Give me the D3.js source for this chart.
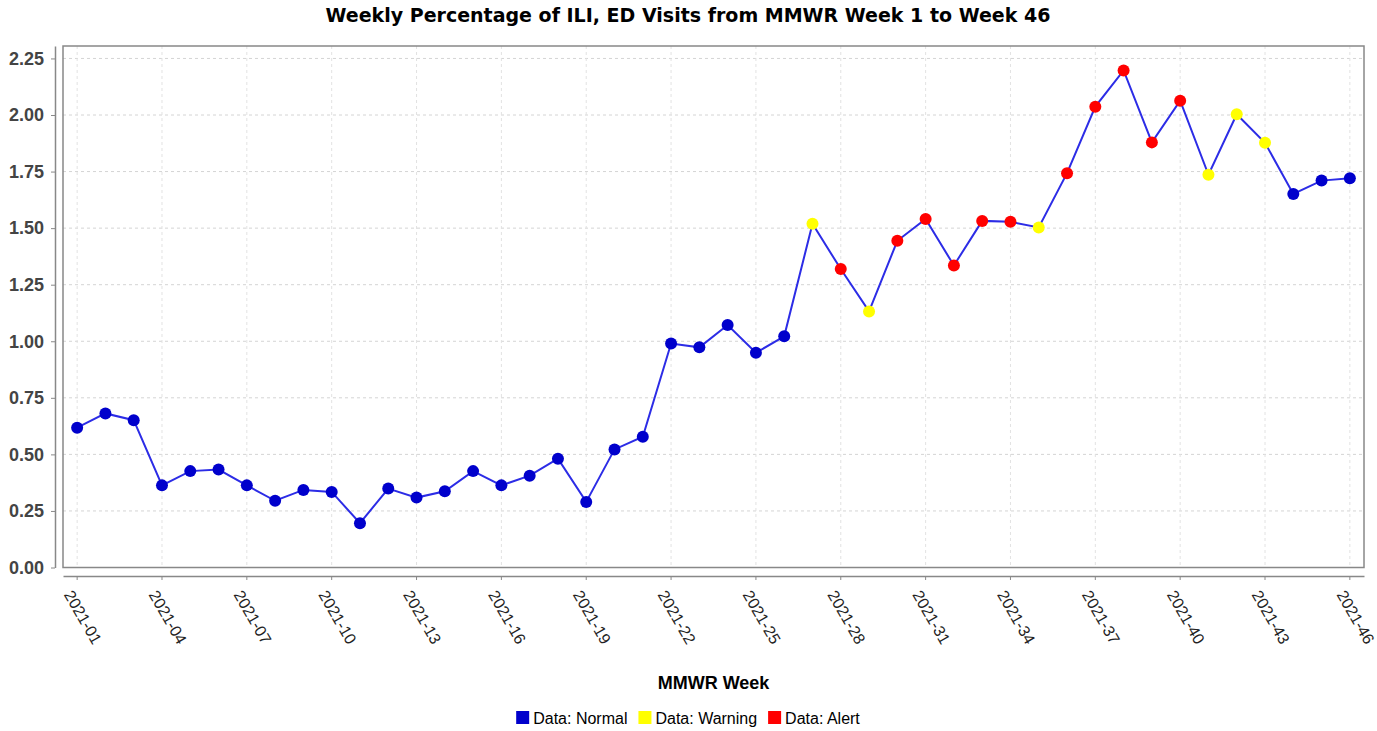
<!DOCTYPE html>
<html>
<head>
<meta charset="utf-8">
<script src="https://cdn.jsdelivr.net/npm/d3@7"></script>
<style>
  body { margin: 0; background: #fff; }
  svg { display: block; }
</style>
</head>
<body>
<svg width="1377" height="731"></svg>
<script>
// ~~~~~~ DATA ~~~~~~
var weeks = ["2021-01","2021-02","2021-03","2021-04","2021-05","2021-06","2021-07","2021-08",
  "2021-09","2021-10","2021-11","2021-12","2021-13","2021-14","2021-15","2021-16","2021-17",
  "2021-18","2021-19","2021-20","2021-21","2021-22","2021-23","2021-24","2021-25","2021-26",
  "2021-27","2021-28","2021-29","2021-30","2021-31","2021-32","2021-33","2021-34","2021-35",
  "2021-36","2021-37","2021-38","2021-39","2021-40","2021-41","2021-42","2021-43","2021-44",
  "2021-45","2021-46"];

var pct = [0.618, 0.681, 0.651, 0.363, 0.426, 0.433, 0.363, 0.295, 0.343, 0.334,
  0.196, 0.349, 0.309, 0.337, 0.426, 0.363, 0.406, 0.481, 0.290, 0.522,
  0.578, 0.990, 0.973, 1.072, 0.949, 1.022, 1.519, 1.319, 1.132, 1.444,
  1.540, 1.335, 1.532, 1.528, 1.503, 1.743, 2.037, 2.197, 1.879, 2.063,
  1.736, 2.003, 1.877, 1.651, 1.710, 1.720];

// N = normal, W = warning, A = alert
var ptStatus = ["N","N","N","N","N","N","N","N","N","N","N","N","N","N","N","N","N","N","N","N",
  "N","N","N","N","N","N","W","A","W","A","A","A","A","A","W","A","A","A","A","A",
  "W","W","W","N","N","N"];

var tickWeeks = ["2021-01","2021-04","2021-07","2021-10","2021-13","2021-16","2021-19","2021-22",
  "2021-25","2021-28","2021-31","2021-34","2021-37","2021-40","2021-43","2021-46"];
var yTicks = [0, 0.25, 0.5, 0.75, 1.0, 1.25, 1.5, 1.75, 2.0, 2.25];

var legendKeys = ["N", "W", "A"];
var legendLabels = ["Data: Normal", "Data: Warning", "Data: Alert"];

// ~~~~~~ COLORS ~~~~~~
var colors = {N: "#0000cc", W: "#ffff00", A: "#ff0000"};

// ~~~~~~ SVG / SCALES ~~~~~~
var svg = d3.select("svg");
var plot = {left: 63, right: 1364, top: 46, bottom: 567.5};

var x = d3.scaleBand().domain(weeks).range([plot.left, plot.right]);
var xc = function(w) { return x(w) + x.bandwidth() / 2; };
var y = d3.scaleLinear().domain([0, 2.305]).range([plot.bottom, plot.top]);

// title
svg.append("text")
   .attr("x", 688)
   .attr("y", 22)
   .attr("text-anchor", "middle")
   .style("font", "bold 19px 'DejaVu Sans'")
   .attr("fill", "#000")
   .text("Weekly Percentage of ILI, ED Visits from MMWR Week 1 to Week 46");

// gridlines
var grid_g = svg.append("g");
grid_g.selectAll(".hgrid")
   .data(yTicks)
   .enter()
   .append("line")
   .attr("x1", plot.left).attr("x2", plot.right)
   .attr("y1", function(d) { return y(d); })
   .attr("y2", function(d) { return y(d); })
   .attr("stroke", "#d4d4d4")
   .attr("stroke-dasharray", "3,3");

grid_g.selectAll(".vgrid")
   .data(tickWeeks)
   .enter()
   .append("line")
   .attr("x1", function(d) { return xc(d); })
   .attr("x2", function(d) { return xc(d); })
   .attr("y1", plot.top).attr("y2", plot.bottom)
   .attr("stroke", "#e2e2e2")
   .attr("stroke-dasharray", "3,3");

// plot frame
svg.append("rect")
   .attr("x", plot.left)
   .attr("y", plot.top)
   .attr("width", plot.right - plot.left)
   .attr("height", plot.bottom - plot.top)
   .attr("fill", "none")
   .attr("stroke", "#888")
   .attr("stroke-width", 1.5);

// y axis
var yAxis = svg.append("g")
   .attr("transform", "translate(55,0)")
   .call(d3.axisLeft(y).tickValues(yTicks).tickFormat(d3.format(".2f")).tickSize(4).tickSizeOuter(0));
yAxis.select(".domain").attr("stroke", "#888").attr("stroke-width", 1.5);
yAxis.selectAll(".tick line").attr("stroke", "#888");
yAxis.selectAll(".tick text")
   .attr("x", -11)
   .style("font", "bold 18px 'Liberation Sans', Arial, sans-serif")
   .attr("fill", "#444");

// x axis
var xAxis = svg.append("g")
   .attr("transform", "translate(0,576)")
   .call(d3.axisBottom(x).tickValues(tickWeeks).tickSize(4).tickSizeOuter(0));
xAxis.select(".domain").attr("stroke", "#888").attr("stroke-width", 1.5);
xAxis.selectAll(".tick line").attr("stroke", "#888");
xAxis.selectAll(".tick text")
   .attr("x", 0).attr("y", 0).attr("dy", null)
   .attr("text-anchor", "start")
   .attr("dominant-baseline", "hanging")
   .attr("transform", "translate(-4,13) rotate(60)")
   .style("font", "16px 'Liberation Sans', Arial, sans-serif")
   .attr("fill", "#222");

// axis label
svg.append("text")
   .attr("x", (plot.left + plot.right) / 2)
   .attr("y", 689)
   .attr("text-anchor", "middle")
   .style("font", "bold 18px 'Liberation Sans', Arial, sans-serif")
   .attr("fill", "#000")
   .text("MMWR Week");

// line
var drawLine = d3.line()
   .x(function(d, i) { return xc(weeks[i]); })
   .y(function(d) { return y(d); });

svg.append("path")
   .datum(pct)
   .attr("fill", "none")
   .attr("stroke", "#2c2ce6")
   .attr("stroke-width", 2)
   .attr("d", drawLine);

// markers
svg.selectAll(".pt")
   .data(pct)
   .enter()
   .append("circle")
   .attr("class", "pt")
   .attr("cx", function(d, i) { return xc(weeks[i]); })
   .attr("cy", function(d) { return y(d); })
   .attr("r", 6)
   .attr("fill", function(d, i) { return colors[ptStatus[i]]; });

// legend
var legend_g = svg.append("g");
var lx = 0;
legendKeys.forEach(function(k, i) {
  var item = legend_g.append("g").attr("transform", "translate(" + lx + ",0)");
  item.append("rect")
      .attr("x", 0).attr("y", 711)
      .attr("width", 13).attr("height", 13)
      .attr("fill", colors[k]);
  var t = item.append("text")
      .attr("x", 17).attr("y", 724)
      .style("font", "16px 'Liberation Sans', Arial, sans-serif")
      .attr("fill", "#000")
      .text(legendLabels[i]);
  lx += 17 + t.node().getComputedTextLength() + 11;
});
var legendWidth = lx - 11;
legend_g.attr("transform", "translate(" + (688 - legendWidth / 2) + ",0)");
</script>
</body>
</html>
